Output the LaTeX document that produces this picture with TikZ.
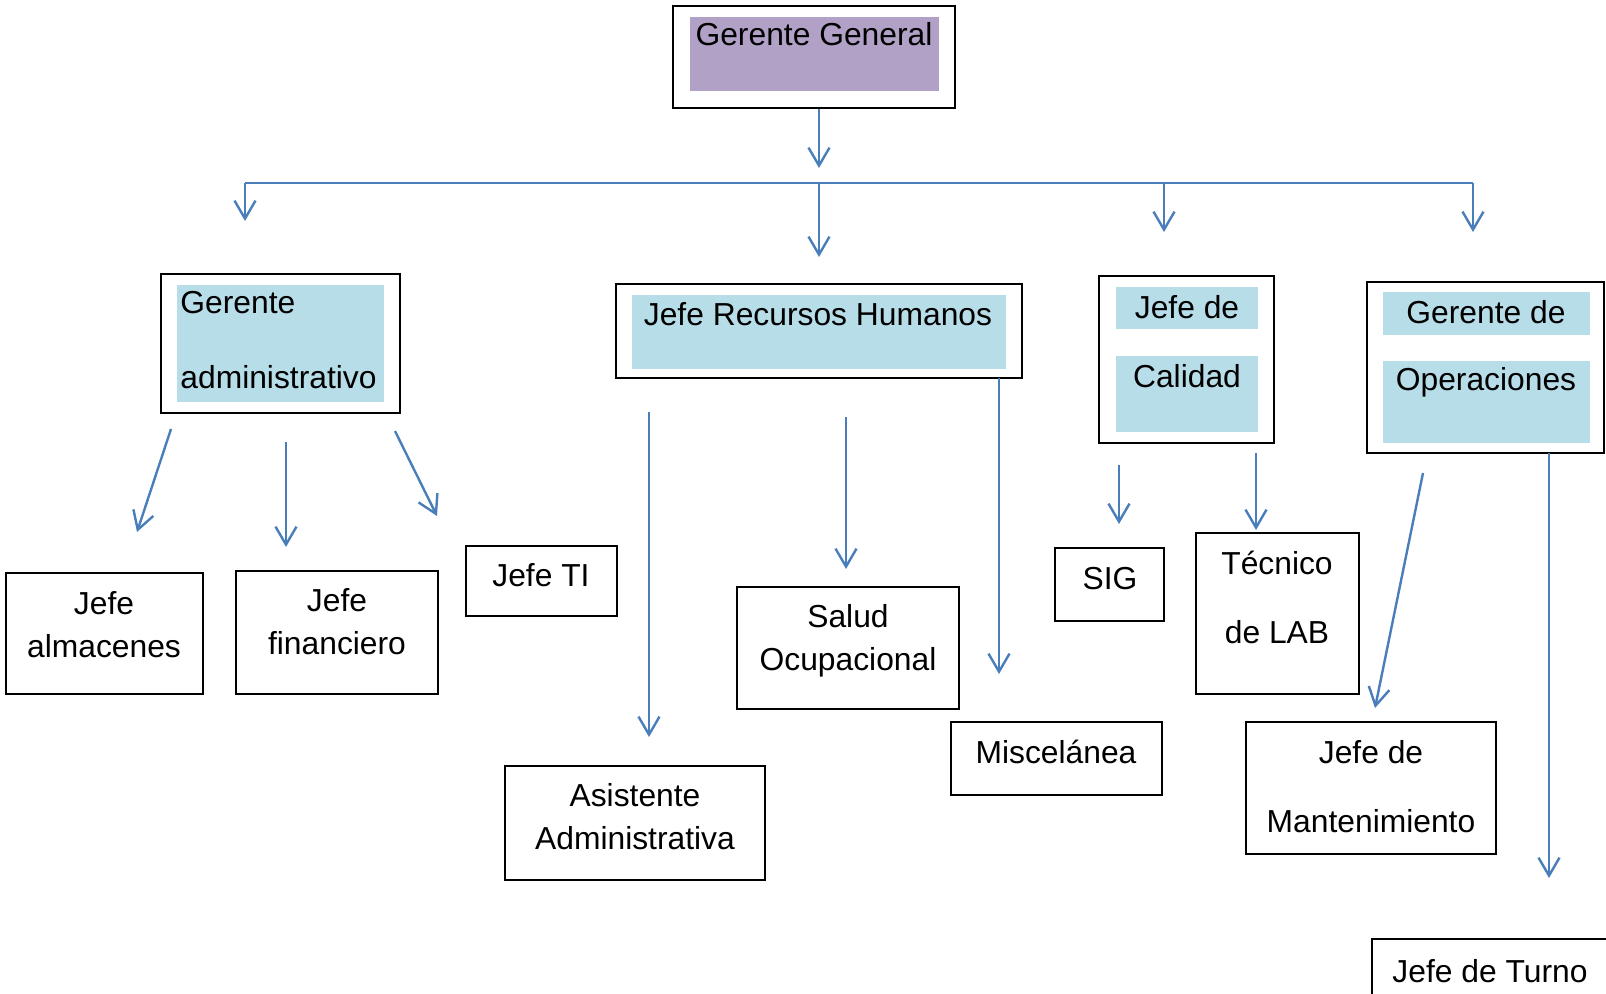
\documentclass[tikz,border=0pt]{standalone}
\usepackage{fontspec}
\setmainfont{Liberation Sans}
\usetikzlibrary{fit,arrows.meta}

\definecolor{linkblue}{HTML}{4A7EBB}
\definecolor{lilac}{HTML}{B2A1C7}
\definecolor{paleblue}{HTML}{B7DDE8}

\tikzset{
    box/.style={draw=black, line width=1pt, inner sep=0pt},
    shadeA/.style={fill=lilac, inner sep=0pt},
    shadeB/.style={fill=paleblue, inner sep=0pt},
    lbl/.style={inner sep=0pt, align=center, font=\fontsize{15.9}{21.3}\selectfont},
    lblwide/.style={lbl, font=\fontsize{15.9}{34.5}\selectfont},
    flow/.style={draw=linkblue, line width=1.2pt, -{Straight Barb[length=9pt, width=10.5pt]}},
    busline/.style={draw=linkblue, line width=1.2pt}
}

\begin{document}
\begin{tikzpicture}[x=0.5pt, y=-0.5pt]
    \useasboundingbox (0,0) rectangle (1606,993);
    \clip (0,0) rectangle (1606,993);

    % gerencia (base = baseline of the last line)
    \node[box, fit={(673,6) (955,108)}] (gg) {};
    \node[shadeA, fit={(690,17) (939,91)}] (gg-fill) {};
    \node[lbl, anchor=base] (gg-txt) at (814,45) {Gerente General};

    % segundo nivel
    \node[box, fit={(161,274) (400,413)}] (ga) {};
    \node[shadeB, fit={(177,285) (384,402)}] (ga-fill) {};
    \node[lblwide, font=\fontsize{15.9}{37.5}\selectfont, anchor=base west, align=left] (ga-txt) at (180,388) {Gerente\\administrativo};

    \node[box, fit={(616,284) (1022,378)}] (rh) {};
    \node[shadeB, fit={(632,295) (1006,369)}] (rh-fill) {};
    \node[lbl, anchor=base] (rh-txt) at (818,325) {Jefe Recursos Humanos};

    \node[box, fit={(1099,276) (1274,443)}] (cal) {};
    \node[shadeB, fit={(1116,287) (1258,329)}] (cal-fill1) {};
    \node[shadeB, fit={(1116,356) (1258,432)}] (cal-fill2) {};
    \node[lblwide, anchor=base] (cal-txt) at (1187,387) {Jefe de\\Calidad};

    \node[box, fit={(1367,282) (1604,453)}] (op) {};
    \node[shadeB, fit={(1383,292) (1590,335)}] (op-fill1) {};
    \node[shadeB, fit={(1383,361) (1590,443)}] (op-fill2) {};
    \node[lblwide, font=\fontsize{15.9}{33.5}\selectfont, anchor=base] (op-txt) at (1486,390) {Gerente de\\Operaciones};

    % tercer nivel
    \node[box, fit={(6,573) (203,694)}] (alm) {};
    \node[lbl, anchor=base] (alm-txt) at (104,657) {Jefe\\almacenes};
    \node[box, fit={(236,571) (438,694)}] (fin) {};
    \node[lbl, anchor=base] (fin-txt) at (337,654) {Jefe\\financiero};
    \node[box, fit={(466,546) (617,616)}] (ti) {};
    \node[lbl, anchor=base] (ti-txt) at (541,586) {Jefe TI};

    \node[box, fit={(505,766) (765,880)}] (asi) {};
    \node[lbl, anchor=base] (asi-txt) at (635,849) {Asistente\\Administrativa};
    \node[box, fit={(737,587) (959,709)}] (sal) {};
    \node[lbl, anchor=base] (sal-txt) at (848,670) {Salud\\Ocupacional};
    \node[box, fit={(951,722) (1162,795)}] (mis) {};
    \node[lbl, anchor=base] (mis-txt) at (1056,763) {Miscelánea};

    \node[box, fit={(1055,548) (1164,621)}] (sig) {};
    \node[lbl, anchor=base] (sig-txt) at (1110,589) {SIG};
    \node[box, fit={(1196,533) (1359,694)}] (tec) {};
    \node[lblwide, anchor=base] (tec-txt) at (1277,643) {Técnico\\de LAB};

    \node[box, fit={(1246,722) (1496,854)}] (man) {};
    \node[lblwide, anchor=base] (man-txt) at (1371,832) {Jefe de\\Mantenimiento};
    \node[box, fit={(1372,939) (1620,1010)}] (tur) {};
    \node[lbl, anchor=base] (tur-txt) at (1490,982) {Jefe de Turno};

    % puntos de las flechas
    \coordinate (gg-out) at (819,109);
    \coordinate (gg-in) at (819,168);
    \coordinate (hub-a) at (245,183);
    \coordinate (hub-b) at (819,183);
    \coordinate (hub-c) at (1164,183);
    \coordinate (hub-d) at (1473,183);
    \coordinate (to-ga) at (245,221);
    \coordinate (to-rh) at (819,257);
    \coordinate (to-cal) at (1164,232);
    \coordinate (to-op) at (1473,232);

    \coordinate (ga-o1) at (171,429);   \coordinate (alm-in) at (137,532);
    \coordinate (ga-o2) at (286,442);   \coordinate (fin-in) at (286,547);
    \coordinate (ga-o3) at (395,431);   \coordinate (ti-in) at (437,516);
    \coordinate (rh-o1) at (649,412);   \coordinate (asi-in) at (649,737);
    \coordinate (rh-o2) at (846,417);   \coordinate (sal-in) at (846,569);
    \coordinate (rh-o3) at (999,378);   \coordinate (mis-in) at (999,674);
    \coordinate (cal-o1) at (1119,465); \coordinate (sig-in) at (1119,524);
    \coordinate (cal-o2) at (1256,453); \coordinate (tec-in) at (1256,530);
    \coordinate (op-o1) at (1423,473);  \coordinate (man-in) at (1375,708);
    \coordinate (op-o2) at (1549,453);  \coordinate (tur-in) at (1549,878);

    \draw[flow] (gg-out) -- (gg-in);
    \draw[busline] (hub-a) -- (hub-d);
    \draw[flow] (hub-a) -- (to-ga);
    \draw[flow] (hub-b) -- (to-rh);
    \draw[flow] (hub-c) -- (to-cal);
    \draw[flow] (hub-d) -- (to-op);

    \draw[flow] (ga-o1) -- (alm-in);
    \draw[flow] (ga-o2) -- (fin-in);
    \draw[flow] (ga-o3) -- (ti-in);
    \draw[flow] (rh-o1) -- (asi-in);
    \draw[flow] (rh-o2) -- (sal-in);
    \draw[flow] (rh-o3) -- (mis-in);
    \draw[flow] (cal-o1) -- (sig-in);
    \draw[flow] (cal-o2) -- (tec-in);
    \draw[flow] (op-o1) -- (man-in);
    \draw[flow] (op-o2) -- (tur-in);
\end{tikzpicture}
\end{document}
